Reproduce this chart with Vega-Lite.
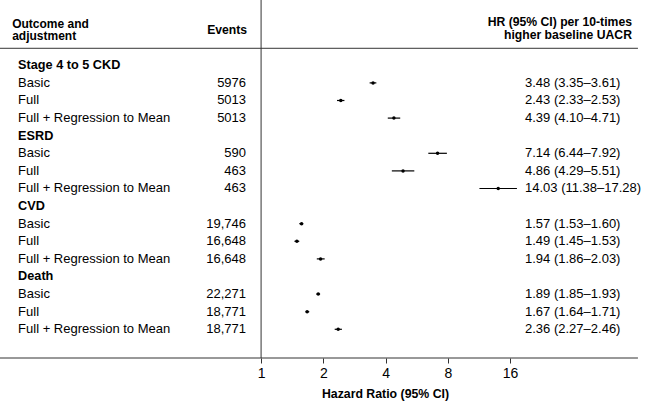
{
  "$schema": "https://vega.github.io/schema/vega-lite/v6.json",
  "width": 647,
  "height": 358,
  "autosize": "none",
  "padding": {"left": 0, "top": 0, "right": 0, "bottom": 51},
  "background": "white",
  "config": {
    "view": {"stroke": null},
    "font": "Liberation Sans",
    "text": {"font": "Liberation Sans", "fontSize": 13, "color": "#000000", "baseline": "middle"},
    "rule": {"color": "#333333", "strokeWidth": 1}
  },
  "datasets": {
    "rows": [
      {"row": 0, "kind": "group", "label": "Stage 4 to 5 CKD"},
      {"row": 1, "kind": "item", "label": "Basic", "events": "5976", "hr": 3.48, "lo": 3.35, "hi": 3.61, "ci": "3.48 (3.35\u20133.61)"},
      {"row": 2, "kind": "item", "label": "Full", "events": "5013", "hr": 2.43, "lo": 2.33, "hi": 2.53, "ci": "2.43 (2.33\u20132.53)"},
      {"row": 3, "kind": "item", "label": "Full + Regression to Mean", "events": "5013", "hr": 4.39, "lo": 4.10, "hi": 4.71, "ci": "4.39 (4.10\u20134.71)"},
      {"row": 4, "kind": "group", "label": "ESRD"},
      {"row": 5, "kind": "item", "label": "Basic", "events": "590", "hr": 7.14, "lo": 6.44, "hi": 7.92, "ci": "7.14 (6.44\u20137.92)"},
      {"row": 6, "kind": "item", "label": "Full", "events": "463", "hr": 4.86, "lo": 4.29, "hi": 5.51, "ci": "4.86 (4.29\u20135.51)"},
      {"row": 7, "kind": "item", "label": "Full + Regression to Mean", "events": "463", "hr": 14.03, "lo": 11.38, "hi": 17.28, "ci": "14.03 (11.38\u201317.28)"},
      {"row": 8, "kind": "group", "label": "CVD"},
      {"row": 9, "kind": "item", "label": "Basic", "events": "19,746", "hr": 1.57, "lo": 1.53, "hi": 1.60, "ci": "1.57 (1.53\u20131.60)"},
      {"row": 10, "kind": "item", "label": "Full", "events": "16,648", "hr": 1.49, "lo": 1.45, "hi": 1.53, "ci": "1.49 (1.45\u20131.53)"},
      {"row": 11, "kind": "item", "label": "Full + Regression to Mean", "events": "16,648", "hr": 1.94, "lo": 1.86, "hi": 2.03, "ci": "1.94 (1.86\u20132.03)"},
      {"row": 12, "kind": "group", "label": "Death"},
      {"row": 13, "kind": "item", "label": "Basic", "events": "22,271", "hr": 1.89, "lo": 1.85, "hi": 1.93, "ci": "1.89 (1.85\u20131.93)"},
      {"row": 14, "kind": "item", "label": "Full", "events": "18,771", "hr": 1.67, "lo": 1.64, "hi": 1.71, "ci": "1.67 (1.64\u20131.71)"},
      {"row": 15, "kind": "item", "label": "Full + Regression to Mean", "events": "18,771", "hr": 2.36, "lo": 2.27, "hi": 2.46, "ci": "2.36 (2.27\u20132.46)"}
    ],
    "one": [{}]
  },
  "layer": [
    {
      "data": {"name": "rows"},
      "transform": [{"filter": "datum.kind === 'item'"}],
      "mark": {"type": "rule", "color": "#000000", "strokeWidth": 1.2},
      "encoding": {
        "x": {
          "field": "lo", "type": "quantitative",
          "scale": {"type": "log", "base": 2, "domain": [0.0546, 73.56], "nice": false, "zero": false},
          "axis": {
            "values": [1, 2, 4, 8, 16], "domain": false, "grid": false,
            "tickSize": 5, "tickColor": "#333333", "tickWidth": 1,
            "labelFontSize": 14, "labelPadding": 3, "labelColor": "#000000", "labelFont": "Liberation Sans",
            "labelFlush": false,
            "title": "Hazard Ratio (95% CI)", "titleFontSize": 12.3, "titleFontWeight": "bold",
            "titleColor": "#000000", "titleFont": "Liberation Sans", "titleX": 385, "titlePadding": 7
          }
        },
        "x2": {"field": "hi"},
        "y": {
          "field": "row", "type": "quantitative",
          "scale": {"domain": [-3.71, 16.631], "reverse": true, "nice": false, "zero": false},
          "axis": null
        }
      }
    },
    {
      "data": {"name": "rows"},
      "transform": [{"filter": "datum.kind === 'item'"}],
      "mark": {"type": "point", "filled": true, "color": "#000000", "size": 12, "opacity": 1},
      "encoding": {
        "x": {"field": "hr", "type": "quantitative"},
        "y": {"field": "row", "type": "quantitative", "axis": null}
      }
    },
    {
      "data": {"name": "one"},
      "mark": {"type": "rule"},
      "encoding": {
        "x": {"datum": 1, "type": "quantitative"},
        "y": {"datum": -3.71, "type": "quantitative", "axis": null},
        "y2": {"datum": 16.631}
      }
    },
    {
      "data": {"name": "one"},
      "mark": {"type": "rule"},
      "encoding": {
        "x": {"datum": 0.0546, "type": "quantitative"},
        "x2": {"datum": 66.5},
        "y": {"datum": -0.966, "type": "quantitative", "axis": null}
      }
    },
    {
      "data": {"name": "one"},
      "mark": {"type": "rule"},
      "encoding": {
        "x": {"datum": 0.0546, "type": "quantitative"},
        "x2": {"datum": 66.5},
        "y": {"datum": 16.631, "type": "quantitative", "axis": null}
      }
    },
    {
      "data": {"name": "rows"},
      "transform": [{"filter": "datum.kind === 'group'"}],
      "mark": {"type": "text", "align": "left", "fontWeight": "bold", "fontSize": 12.7},
      "encoding": {
        "x": {"datum": 0.0668, "type": "quantitative"},
        "y": {"field": "row", "type": "quantitative", "axis": null},
        "text": {"field": "label"}
      }
    },
    {
      "data": {"name": "rows"},
      "transform": [{"filter": "datum.kind === 'item'"}],
      "mark": {"type": "text", "align": "left"},
      "encoding": {
        "x": {"datum": 0.0668, "type": "quantitative"},
        "y": {"field": "row", "type": "quantitative", "axis": null},
        "text": {"field": "label"}
      }
    },
    {
      "data": {"name": "rows"},
      "transform": [{"filter": "datum.kind === 'item'"}],
      "mark": {"type": "text", "align": "right"},
      "encoding": {
        "x": {"datum": 0.846, "type": "quantitative"},
        "y": {"field": "row", "type": "quantitative", "axis": null},
        "text": {"field": "events"}
      }
    },
    {
      "data": {"name": "rows"},
      "transform": [{"filter": "datum.kind === 'item'"}],
      "mark": {"type": "text", "align": "left"},
      "encoding": {
        "x": {"datum": 18.91, "type": "quantitative"},
        "y": {"field": "row", "type": "quantitative", "axis": null},
        "text": {"field": "ci"}
      }
    },
    {
      "data": {"name": "one"},
      "mark": {"type": "text", "align": "left", "fontWeight": "bold", "fontSize": 12, "lineHeight": 12.5, "text": ["Outcome and", "adjustment"]},
      "encoding": {
        "x": {"datum": 0.0625, "type": "quantitative"},
        "y": {"datum": -2.37, "type": "quantitative", "axis": null}
      }
    },
    {
      "data": {"name": "one"},
      "mark": {"type": "text", "align": "right", "fontWeight": "bold", "fontSize": 12.2, "text": "Events"},
      "encoding": {
        "x": {"datum": 0.856, "type": "quantitative"},
        "y": {"datum": -2.0, "type": "quantitative", "axis": null}
      }
    },
    {
      "data": {"name": "one"},
      "mark": {"type": "text", "align": "right", "fontWeight": "bold", "fontSize": 12.2, "lineHeight": 13, "text": ["HR (95% CI) per 10-times", "higher baseline UACR"]},
      "encoding": {
        "x": {"datum": 62.2, "type": "quantitative"},
        "y": {"datum": -2.46, "type": "quantitative", "axis": null}
      }
    }
  ]
}
